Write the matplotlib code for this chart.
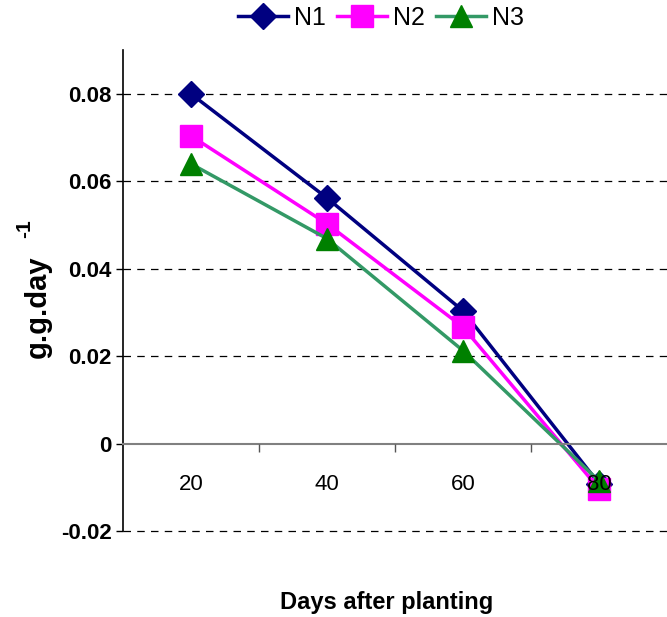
import matplotlib.pyplot as plt
from matplotlib.ticker import FixedLocator

# Datos
dias = [20, 40, 60, 80]
n1 = [0.0800, 0.0562, 0.0304, -0.0091]
n2 = [0.0704, 0.0503, 0.0267, -0.0103]
n3 = [0.0640, 0.0469, 0.0213, -0.0085]
yticks = [-0.02, 0, 0.02, 0.04, 0.06, 0.08]
ytick_labels = ['-0.02', '0', '0.02', '0.04', '0.06', '0.08']

plt.rcParams['font.family'] = ['Liberation Sans', 'DejaVu Sans']

fig = plt.figure(figsize=(6.67, 6.17), dpi=100)
ax = fig.add_axes([0.184, 0.139, 0.816, 0.780])

ax.plot(dias, n1, color='#000080', lw=2.5, marker='D', ms=13,
        markerfacecolor='#000080', markeredgecolor='#000080', label='N1', zorder=2.2)
ax.plot(dias, n2, color='#FF00FF', lw=2.5, marker='s', ms=16,
        markerfacecolor='#FF00FF', markeredgecolor='#FF00FF', label='N2', zorder=2.2)
ax.plot(dias, n3, color='#339966', lw=2.5, marker='^', ms=16,
        markerfacecolor='#008000', markeredgecolor='#008000', label='N3', zorder=2.2)

ax.set_xlim(10, 90)
ax.set_ylim(-0.02, 0.09)

# Líneas de cuadrícula discontinuas
for yv in yticks:
    if yv != 0:
        ax.axhline(yv, color='black', lw=0.9, ls=(0, (6, 5)), zorder=1, clip_on=False)

ax.spines['top'].set_visible(False)
ax.spines['right'].set_visible(False)
ax.spines['bottom'].set_position(('data', 0))
ax.spines['bottom'].set_color('#808080')
ax.spines['bottom'].set_linewidth(1.5)
ax.spines['left'].set_linewidth(1.2)
ax.xaxis.set_zorder(4)

ax.set_yticks(yticks)
ax.set_yticklabels(ytick_labels, fontsize=16, fontweight='bold')
ax.tick_params(axis='y', direction='out', length=5, width=1, pad=3)

ax.set_xticks(dias)
ax.set_xticklabels([str(d) for d in dias], fontsize=16)
ax.tick_params(axis='x', which='major', length=0, pad=22)
ax.xaxis.set_minor_locator(FixedLocator([30, 50, 70]))
ax.tick_params(axis='x', which='minor', direction='out', length=6, width=1, color='#555555')

# Etiquetas de los ejes
fig.text(38 / 667, 1 - 307 / 617, 'g.g.day', fontsize=21, fontweight='bold',
         rotation=90, ha='center', va='center')
fig.text(25 / 667, 1 - 229 / 617, '-1', fontsize=15, fontweight='bold',
         rotation=90, ha='center', va='center')
fig.text(387 / 667, 1 - 603 / 617, 'Days after planting', fontsize=17,
         fontweight='bold', ha='center', va='center')

fig.legend(loc='center', bbox_to_anchor=(381 / 667, 1 - 18 / 617), ncol=3, frameon=False,
           fontsize=18, handlelength=2.0, handletextpad=0.25, columnspacing=0.45)

fig.savefig('out.png', dpi=100)
